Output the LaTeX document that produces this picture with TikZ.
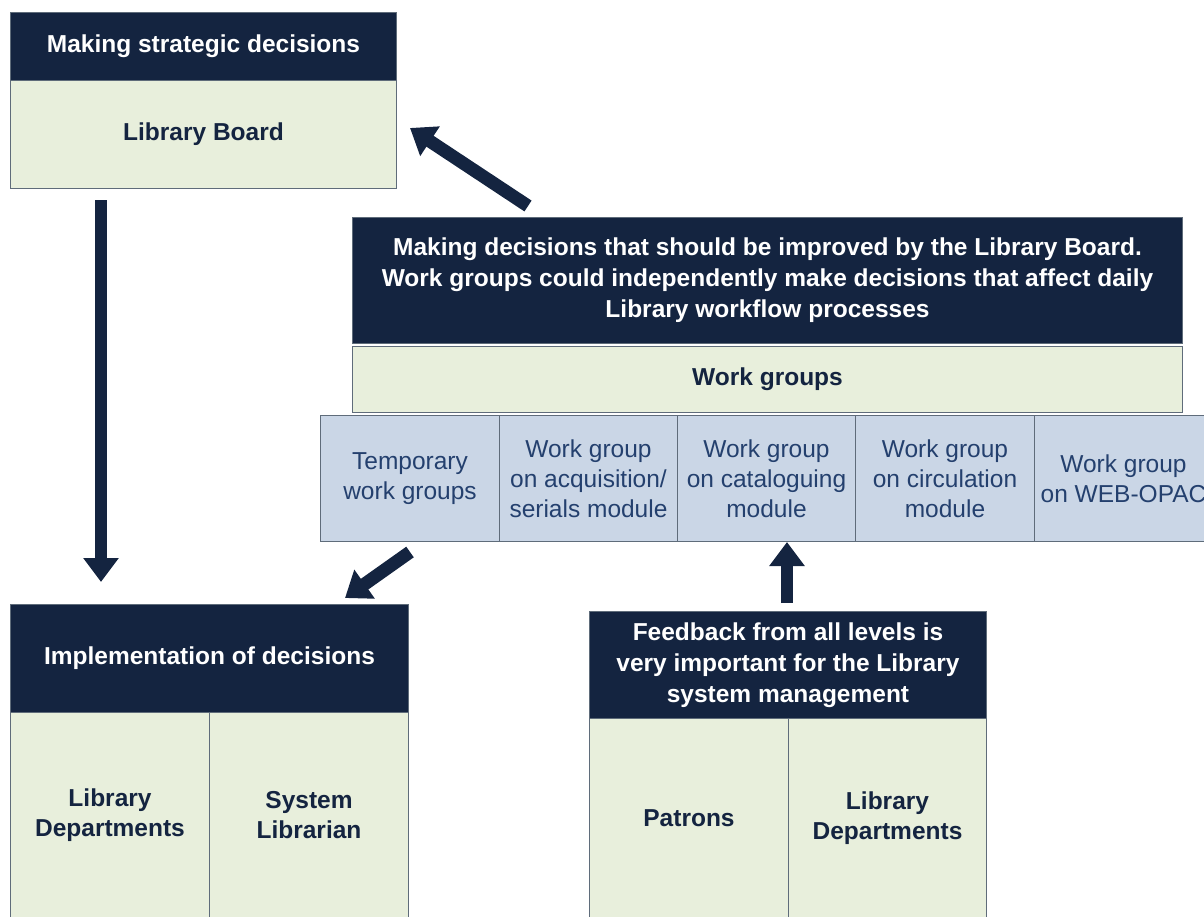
\documentclass[tikz,border=0pt]{standalone}
\usepackage{fontspec}
\setmainfont{Liberation Sans}
\usetikzlibrary{arrows.meta}
\definecolor{navy}{RGB}{20,36,64}
\definecolor{lgreen}{RGB}{232,239,220}
\definecolor{lblue}{RGB}{202,214,230}
\definecolor{cellblue}{RGB}{36,64,110}
\definecolor{edge}{RGB}{95,108,122}
\begin{document}
\begin{tikzpicture}[x=1pt,y=-1pt,
  box/.style={draw=edge, line width=1pt, inner sep=0pt, anchor=north west, align=center},
  hdr/.style={box, fill=navy, text=white, font=\bfseries\fontsize{24.5}{31}\selectfont},
  body/.style={box, fill=lgreen, text=navy, font=\bfseries\fontsize{24.5}{30}\selectfont},
  cell/.style={box, fill=lblue, text=cellblue, font=\fontsize{24.5}{30}\selectfont, minimum width=178pt, minimum height=126pt},
  bigarrow/.style={navy, line width=12pt, -{Triangle[width=34pt,length=24pt]}}
]
\useasboundingbox (0,0) rectangle (1204,916);

% top-left
\node[hdr, minimum width=386pt, minimum height=68pt] (strat) at (10,12) {Making strategic decisions};
\node[body, minimum width=386pt, minimum height=108pt] (board) at (10,80) {Library Board};

% work groups
\node[hdr, minimum width=830pt, minimum height=126pt] (wghdr) at (352,217)
  {Making decisions that should be improved by the Library Board.\\
   Work groups could independently make decisions that affect daily\\
   Library workflow processes};
\node[body, minimum width=830pt, minimum height=66pt] (wg) at (352,346) {Work groups};

\node[cell, minimum width=179pt] (c1) at (320,415) {Temporary\\work groups};
\node[cell] (c2) at (499,415) {Work group\\on acquisition/\\serials module};
\node[cell] (c3) at (677,415) {Work group\\on cataloguing\\module};
\node[cell, minimum width=179pt] (c4) at (855,415) {Work group\\on circulation\\module};
\node[cell] (c5) at (1034,415) {Work group\\on WEB-OPAC};

% implementation
\node[hdr, minimum width=398pt, minimum height=108pt] (impl) at (10,604) {Implementation of decisions};
\node[body, minimum width=199pt, minimum height=205pt] (ld1) at (10,712) {Library\\Departments};
\node[body, minimum width=199pt, minimum height=205pt] (sl) at (209,712) {System\\Librarian};

% feedback
\node[hdr, minimum width=397pt, minimum height=107pt] (fb) at (589,611)
  {Feedback from all levels is\\very important for the Library\\system management};
\node[body, minimum width=199pt, minimum height=199pt] (pat) at (589,718) {Patrons};
\node[body, minimum width=198pt, minimum height=199pt] (ld2) at (788,718) {Library\\Departments};

% arrow end points
\coordinate (a1s) at (101,200);
\coordinate (a1e) at (101,582);
\coordinate (a2s) at (528,206);
\coordinate (a2e) at (410,128);
\coordinate (a3s) at (410,552);
\coordinate (a3e) at (345,598);
\coordinate (a4s) at (787,603);
\coordinate (a4e) at (787,542);

\draw[bigarrow] (a1s) -- (a1e);
\draw[bigarrow, line width=13pt] (a2s) -- (a2e);
\draw[bigarrow, line width=13pt] (a3s) -- (a3e);
\draw[bigarrow] (a4s) -- (a4e);
\end{tikzpicture}
\end{document}
